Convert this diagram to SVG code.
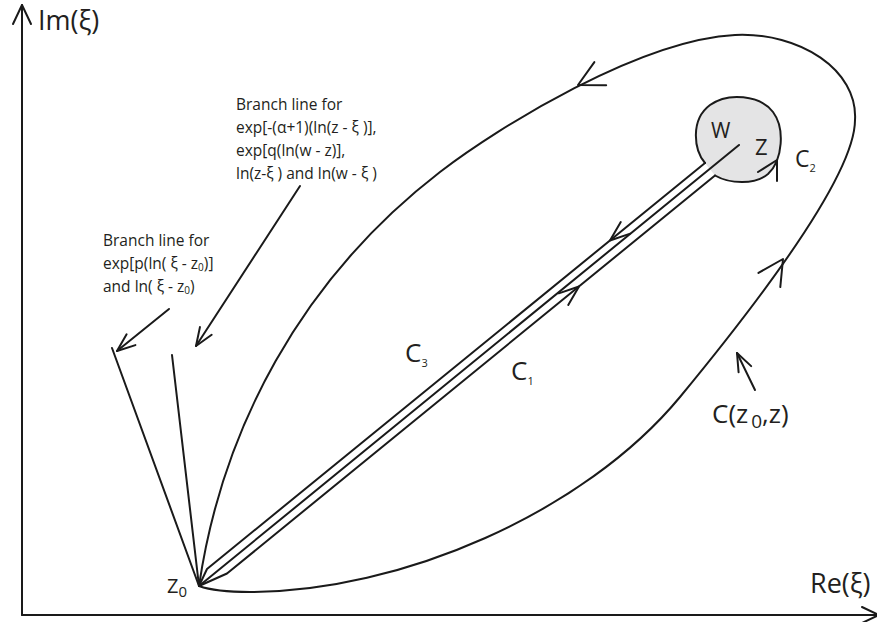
<svg xmlns="http://www.w3.org/2000/svg" width="877" height="622" viewBox="0 0 877 622">
<style>
.ln{fill:none;stroke:#1a1a1a;stroke-width:2;stroke-linecap:round;stroke-linejoin:round}
.t{font-family:"Open Sans","Liberation Sans",sans-serif;fill:#231f20}
.lab{font-size:15.5px}
.big{font-size:27px}
</style>
<defs>
<marker id="arr" markerUnits="userSpaceOnUse" markerWidth="40" markerHeight="40" refX="0" refY="0" viewBox="-30 -20 40 40" orient="auto" overflow="visible">
<path d="M-18,-7 L0,0 L-18,7" fill="none" stroke="#1a1a1a" stroke-width="2" stroke-linecap="round" stroke-linejoin="round"/>
</marker>
<path id="ah" d="M-20,-7.5 L0,0 L-20,7.5"/>
<path id="ahBig" d="M-25,-13 L0,0 L-25,13"/>
</defs>

<g id="axes" class="ln">
<path d="M22,615 L22,5"/>
<path d="M13,24 L22,5 L31,24"/>
<path d="M22,615 L877,615"/>
<path d="M862,607 L879,615 L862,623"/>
</g>

<g id="blob">
<path d="M705,163 C694,150 690,120 710,105 C728,92 760,95 773,112 C785,128 783,160 768,174 C755,185 730,184 715,175.5" fill="#e4e4e5" stroke="#1a1a1a" stroke-width="2" stroke-linecap="round"/>
</g>

<g id="connectors" class="ln">
<path id="contour" d="M199,586 C222,430 300,280 440,172 C500,126 640,40 735,35 C800,32 858,70 855,120 C855,175 760,300 680,397 C584,513 400,592 250,592 C225,592 210,590 199,586"/>
<path id="c3" d="M199,586 L207,569 L705,163"/>
<path id="mid" d="M199,586 L739,145"/>
<path id="c1" d="M199,586 L227,573.5 L715,175.5"/>
<path id="branch1" d="M199,586 L112,348"/>
<path id="branch2" d="M199,586 L172,355"/>
<path id="ptr1" d="M169,309 L117,351" marker-end="url(#arr)"/>
<path id="ptr2" d="M300,186 L196,346" marker-end="url(#arr)"/>
<path id="ptr3" d="M755,390 L737,353" marker-end="url(#arr)"/>
<use href="#ahBig" transform="translate(578,85) rotate(153)"/>
<use href="#ahBig" transform="translate(783,259) rotate(-57)"/>
<use href="#ah" transform="translate(610,240.5) rotate(140.8)"/>
<use href="#ah" transform="translate(579,286.5) rotate(-39.2)"/>
<path d="M758,172 L777,160 L777,181"/>
</g>

<g id="labels" class="t">
<text class="big" x="38" y="30">Im(ξ)</text>
<text class="big" x="810" y="593">Re(ξ)</text>
<g id="note1" class="lab">
<text x="236" y="110">Branch line for</text>
<text x="236" y="133">exp[-(α+1)(ln(z - ξ )],</text>
<text x="236" y="156">exp[q(ln(w - z)],</text>
<text x="236" y="179">ln(z-ξ ) and ln(w - ξ )</text>
</g>
<g id="note2" class="lab">
<text x="103" y="246">Branch line for</text>
<text x="103" y="269">exp[p(ln( ξ - z<tspan font-size="10" dy="2">0</tspan><tspan dy="-2">)]</tspan></text>
<text x="103" y="292">and ln( ξ - z<tspan font-size="10" dy="2">0</tspan><tspan dy="-2">)</tspan></text>
</g>
<text x="167" y="593" font-size="20">Z<tspan font-size="15" dy="4">0</tspan></text>
<text x="711" y="138" font-size="21">W</text>
<text x="755" y="155" font-size="22">Z</text>
<text x="795" y="167" font-size="23">C<tspan font-size="11" dy="5">2</tspan></text>
<text x="405" y="362" font-size="26">C<tspan font-size="11" dy="5">3</tspan></text>
<text x="511" y="380" font-size="26">C<tspan font-size="11" dy="5">1</tspan></text>
<text x="712" y="423" font-size="26">C(z<tspan dx="3" font-size="19" dy="5">0</tspan><tspan dy="-5">,z)</tspan></text>
</g>
</svg>
